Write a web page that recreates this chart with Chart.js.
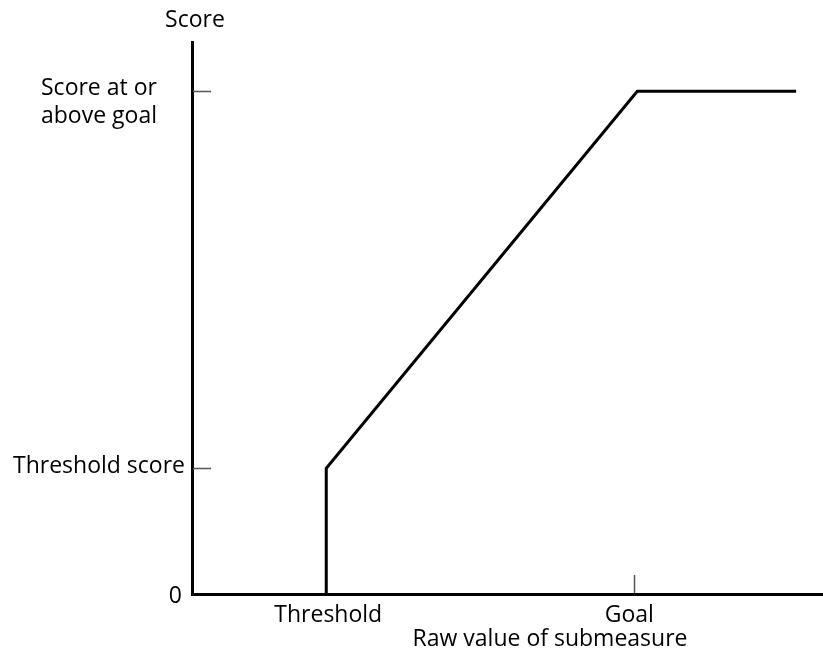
<!DOCTYPE html>
<html>
<head>
<meta charset="utf-8">
<title>Score vs raw value of submeasure</title>
<script src="https://cdn.jsdelivr.net/npm/chart.js@4.4.1/dist/chart.umd.min.js"></script>
<style>
    html, body { margin: 0; padding: 0; background: #fff; }
    #score-chart { display: block; }
</style>
</head>
<body>
<canvas id="score-chart" width="823" height="652"></canvas>
<script>
    "use strict";

    // raw value of the submeasure (x) and the resulting score (y)
    const rawValues = [30, 30, 99.5, 135];
    const scores = [0, 25, 100, 100];

    const xTickValues = [30, 99.5];
    const xTickLabels = ['Threshold', 'Goal'];
    const yTickValues = [0, 25, 100];
    const yTickLabels = ['0', 'Threshold score', ['Score at or', 'above goal']];

    const xTitle = 'Raw value of submeasure';
    const yTitle = 'Score';

    const FONT = '23px "Open Sans"';

    // tick marks and labels, placed from the chart scales
    const axisLabels = {
        id: 'axisLabels',
        afterDraw(chart) {
            const ctx = chart.ctx;
            const xs = chart.scales.x;
            const ys = chart.scales.y;
            const axisX = chart.chartArea.left;
            const axisY = chart.chartArea.bottom;

            ctx.save();
            ctx.strokeStyle = '#555';
            ctx.lineWidth = 1.5;
            ctx.beginPath();
            yTickValues.forEach(v => {
                if (v === 0) return;
                const py = Math.round(ys.getPixelForValue(v)) + 0.5;
                ctx.moveTo(axisX + 1, py);
                ctx.lineTo(axisX + 19, py);
            });
            // only the goal gets a tick on x, threshold has the line itself
            const gx = Math.round(xs.getPixelForValue(xTickValues[1])) - 2.5;
            ctx.moveTo(gx, axisY - 19);
            ctx.lineTo(gx, axisY - 1);
            ctx.stroke();

            ctx.fillStyle = '#000';
            ctx.font = FONT;
            ctx.textBaseline = 'alphabetic';

            // y labels
            ctx.textAlign = 'right';
            ctx.fillText(yTickLabels[0], axisX - 10, ys.getPixelForValue(yTickValues[0]) + 9);
            ctx.fillText(yTickLabels[1], axisX - 7, ys.getPixelForValue(yTickValues[1]) + 5);
            ctx.textAlign = 'left';
            const goalY = ys.getPixelForValue(yTickValues[2]);
            yTickLabels[2].forEach((line, i) => {
                ctx.fillText(line, 41, goalY + 4 + i * 28);
            });

            // x labels
            ctx.textAlign = 'center';
            ctx.fillText(xTickLabels[0], xs.getPixelForValue(xTickValues[0]) + 2, axisY + 28);
            ctx.fillText(xTickLabels[1], xs.getPixelForValue(xTickValues[1]) - 8, axisY + 28);
            ctx.fillText(xTitle, xs.getPixelForValue(80), axisY + 52);

            // y title
            ctx.fillText(yTitle, axisX + 3, 27);
            ctx.restore();
        }
    };

    let scoreChart = document.getElementById('score-chart');
    if (scoreChart) {
        new Chart(scoreChart, {
            type: 'line',
            data: {
                datasets: [{
                    label: yTitle,
                    data: rawValues.map((x, i) => ({ x: x, y: scores[i] })),
                    borderColor: '#000',
                    borderWidth: 3,
                    borderJoinStyle: 'miter',
                    pointRadius: 0,
                    tension: 0,
                    fill: false
                }]
            },
            options: {
                responsive: false,
                animation: false,
                layout: {
                    padding: { left: 184, top: 42, right: 0, bottom: 50 }
                },
                plugins: {
                    legend: { display: false },
                    tooltip: { enabled: false }
                },
                scales: {
                    x: {
                        type: 'linear',
                        min: 0,
                        max: 141,
                        grid: { display: false },
                        ticks: { display: false },
                        border: { color: '#000', width: 3 }
                    },
                    y: {
                        type: 'linear',
                        min: 0,
                        max: 109.8,
                        grid: { display: false },
                        ticks: { display: false },
                        border: { color: '#000', width: 3 }
                    }
                }
            },
            plugins: [axisLabels]
        });
    }
</script>
</body>
</html>
